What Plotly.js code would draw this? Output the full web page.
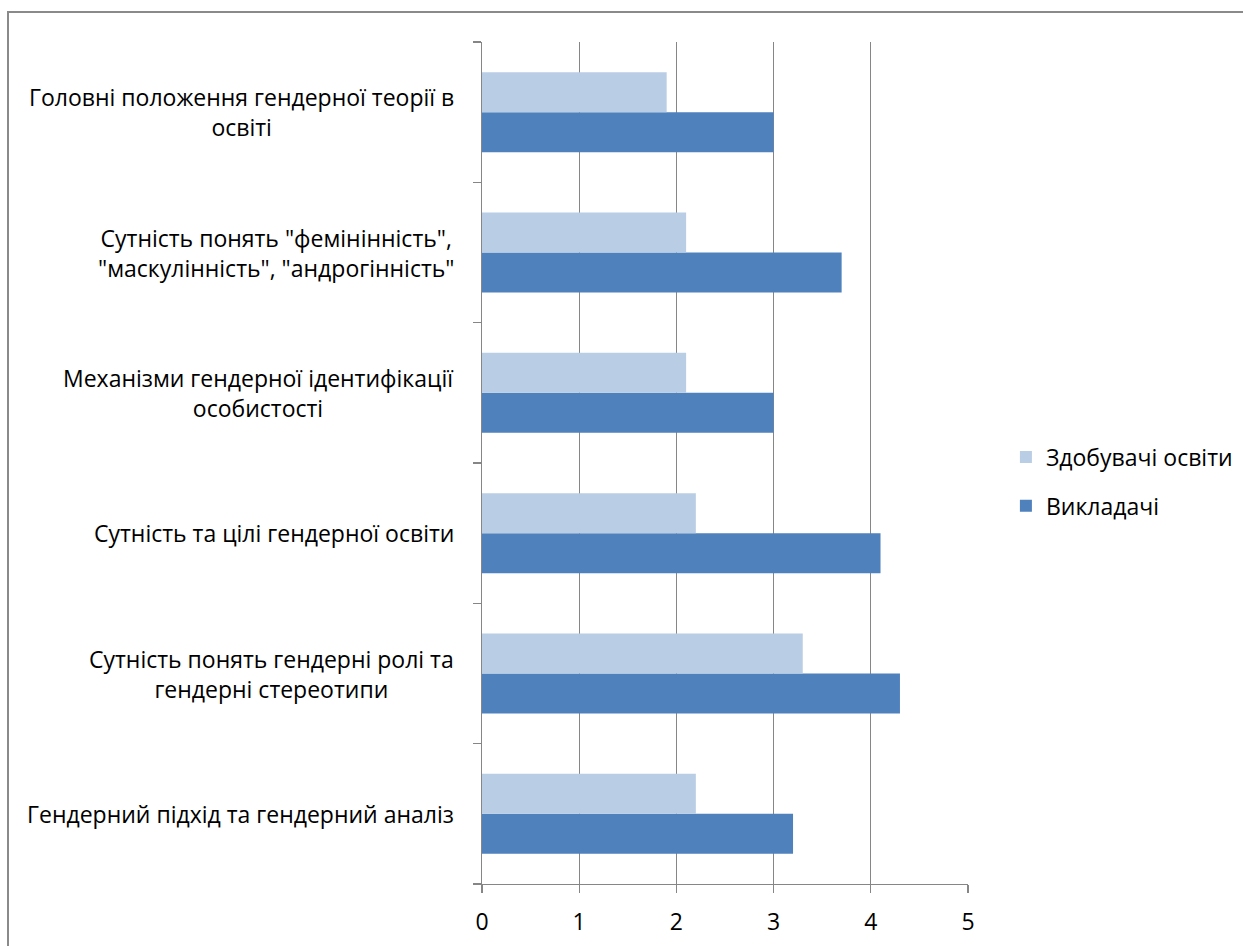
<!DOCTYPE html>
<html>
<head>
<meta charset="utf-8">
<script src="https://cdn.plot.ly/plotly-3.0.1.min.js"></script>
<style>
  html, body { margin: 0; padding: 0; background: #fff; }
  #wrap { position: relative; width: 1243px; height: 946px; overflow: hidden; }
  #chart { position: absolute; left: 0; top: 0; width: 1243px; height: 946px; }
  #frame { position: absolute; left: 7px; top: 11px; width: 1400px; height: 1100px;
           border-left: 2px solid #8a8a8a; border-top: 2px solid #8a8a8a; pointer-events: none; }
</style>
</head>
<body>
<div id="wrap">
  <div id="chart"></div>
  <div id="frame"></div>
</div>
<script>
// Topics, listed from the bottom of the chart upwards
const topics = [
  "Гендерний підхід та гендерний аналіз",
  "Сутність понять гендерні ролі та<br>гендерні стереотипи",
  "Сутність та цілі гендерної освіти",
  "Механізми гендерної ідентифікації<br>особистості",
  "Сутність понять \"фемінінність\",<br>\"маскулінність\", \"андрогінність\"",
  "Головні положення гендерної теорії в<br>освіті"
];
const teachers = [3.2, 4.3, 4.1, 3.0, 3.7, 3.0];   // Викладачі
const students = [2.2, 3.3, 2.2, 2.1, 2.1, 1.9];   // Здобувачі освіти
const xTicks = [0, 1, 2, 3, 4, 5];

const FONT = "Open Sans, Noto Sans, sans-serif";
const FS = 23;
const GREY = "#868686";

const data = [
  {
    type: "bar", orientation: "h", name: "Викладачі",
    y: topics, x: teachers, marker: { color: "#4F81BD" },
    legendgroup: "a", legendrank: 2, hoverinfo: "x"
  },
  {
    type: "bar", orientation: "h", name: "Здобувачі освіти",
    y: topics, x: students, marker: { color: "#B9CDE5" },
    legendgroup: "b", legendrank: 1, hoverinfo: "x"
  }
];

// Category labels as centred multi-line text to the left of the axis
const annotations = topics.map(t => ({
  xref: "paper", yref: "y", x: -0.053, y: t,
  text: t, showarrow: false, xanchor: "right", yanchor: "middle",
  align: "center", font: { family: FONT, size: FS, color: "#000" }
}));

const layout = {
  width: 1243, height: 946,
  margin: { l: 482, r: 275, t: 42, b: 62, autoexpand: false },
  paper_bgcolor: "#fff", plot_bgcolor: "#fff",
  barmode: "group", bargap: 0.43, bargroupgap: 0,
  font: { family: FONT, size: FS, color: "#000" },
  xaxis: {
    range: [0, 5], tickvals: xTicks, ticktext: xTicks.map(String),
    showgrid: true, gridcolor: GREY, gridwidth: 1.3,
    zeroline: false, showline: true, linecolor: GREY, linewidth: 1.3,
    ticks: "outside", ticklen: 8, tickcolor: GREY, tickwidth: 1.3,
    ticklabelstandoff: 9,
    tickfont: { family: FONT, size: FS, color: "#000" }
  },
  yaxis: {
    type: "category", range: [-0.5, 5.5],
    showticklabels: false, showgrid: false, zeroline: false,
    showline: true, linecolor: GREY, linewidth: 1.3,
    ticks: "outside", tickson: "boundaries", ticklen: 8,
    tickcolor: GREY, tickwidth: 1.3
  },
  showlegend: true,
  legend: {
    traceorder: "grouped", tracegroupgap: 16,
    x: 1.078, xanchor: "left", y: 0.478, yanchor: "middle",
    font: { family: FONT, size: FS, color: "#000" },
    bgcolor: "rgba(0,0,0,0)"
  },
  annotations: annotations
};

Plotly.newPlot("chart", data, layout, { displayModeBar: false, staticPlot: true });
</script>
</body>
</html>
